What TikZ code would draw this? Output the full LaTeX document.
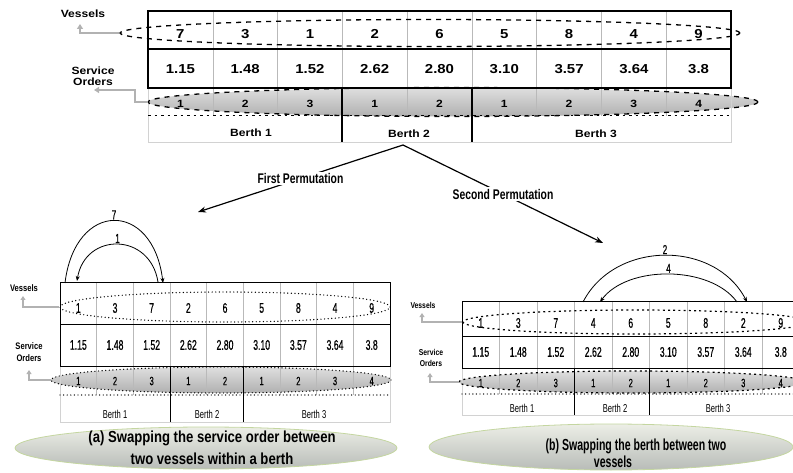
\documentclass[tikz,border=0pt]{standalone}
\usepackage{fontspec}
\usepackage{graphicx}
\setmainfont{Liberation Sans}
\newfontfamily\topf[FakeStretch=1.15]{Liberation Sans}
\newfontfamily\botf[FakeStretch=0.62,FakeBold=0.6]{Liberation Sans}
\newfontfamily\botfb[FakeStretch=0.66]{Liberation Sans}
\newfontfamily\labf[FakeStretch=0.8]{Liberation Sans}
\newfontfamily\permf[FakeStretch=0.74]{Liberation Sans}
\newfontfamily\tita[FakeStretch=0.82]{Liberation Sans}
\newfontfamily\titb[FakeStretch=0.66]{Liberation Sans}
\usetikzlibrary{shapes.geometric,arrows.meta}
\definecolor{titfillT}{RGB}{236,238,230}
\definecolor{titfillB}{RGB}{184,188,184}
\definecolor{titedge}{RGB}{196,214,160}
\begin{document}
\begin{tikzpicture}[x=1pt,y=-1pt,
  topnum/.style={font=\topf\bfseries\fontsize{13}{15}\selectfont, inner sep=0pt},
  topso/.style={font=\topf\bfseries\fontsize{10.5}{12}\selectfont, inner sep=0pt},
  toplab/.style={font=\topf\bfseries\fontsize{10.5}{11.5}\selectfont, inner sep=0pt, align=center},
  botnum/.style={font=\botf\fontsize{14}{16}\selectfont, inner sep=0pt},
  botso/.style={font=\botf\fontsize{12}{14}\selectfont, inner sep=0pt},
  botberth/.style={font=\botfb\fontsize{11.5}{13}\selectfont, inner sep=0pt},
  botlab/.style={font=\labf\bfseries\fontsize{9.5}{12.5}\selectfont, inner sep=0pt, align=center},
  botlabb/.style={font=\labf\bfseries\fontsize{8.5}{10.6}\selectfont, inner sep=0pt, align=center},
  arclab/.style={font=\botf\fontsize{13}{14}\selectfont, inner sep=1pt},
  permlab/.style={font=\permf\bfseries\fontsize{14}{15}\selectfont, fill=white, inner sep=1.5pt},
  permarrow/.style={draw=black, line width=1.2pt, -{Stealth[length=8pt,width=6pt]}},
  arcarrow/.style={draw=black, line width=0.8pt, -{Stealth[length=5pt,width=4pt]}},
  labarrow/.style={draw=gray!60, line width=1.6pt, -{Triangle[length=5pt,width=6pt]}},
  labarrowb/.style={draw=gray!60, line width=1.2pt, -{Triangle[length=4pt,width=5pt]}},
  gridl/.style={draw=gray!55, line width=0.5pt},
  lightl/.style={draw=gray!35, line width=0.6pt},
  boxl/.style={draw=black, line width=1.3pt},
  boxlb/.style={draw=black, line width=1pt},
  shell/.style={ellipse, inner sep=0pt, top color=gray!25, bottom color=gray!62},
  topdash/.style={draw=black, line width=1.3pt, dash pattern=on 5pt off 5pt},
  botdot/.style={draw=black, line width=1.4pt, dash pattern=on 0pt off 3.6pt, line cap=round},
  botdash/.style={draw=black, line width=1.2pt, dash pattern=on 2pt off 3.2pt},
  titell/.style={ellipse, inner sep=0pt, top color=titfillT, bottom color=titfillB, draw=titedge, line width=0.8pt}
]
\useasboundingbox (0,0) rectangle (793,473);
\clip (0,0) rectangle (793,473);

% ================= TOP TABLE =================
\node[shell, minimum width=610pt, minimum height=29pt] (serT) at (453,102) {};
\foreach \i in {1,...,8} {
  \draw[gridl] ({148+64.78*\i},11) -- ({148+64.78*\i},116);
}
\draw[lightl] (148,88) -- (148,142) -- (731,142) -- (731,88);
\draw[draw=black, line width=1pt, dash pattern=on 2.5pt off 4pt] (148,116) -- (731,116);
\draw[boxl] (148,11) rectangle (731,88);
\draw[boxl] (148,49) -- (731,49);
\draw[draw=black, line width=2pt] (342.3,88) -- (342.3,142);
\draw[draw=black, line width=2pt] (471.9,88) -- (471.9,142);
\draw[topdash] (serT.center) ellipse [x radius=305, y radius=14.5];
\node[ellipse, topdash, minimum width=620pt, minimum height=27pt, inner sep=0pt] (vesT) at (430,33) {};

\foreach \v [count=\i] in {7,3,1,2,6,5,8,4,9}
  \node[topnum] (tv\i) at ({148+64.78*(\i-0.5)},34) {\v};
\foreach \v [count=\i] in {1.15,1.48,1.52,2.62,2.80,3.10,3.57,3.64,3.8}
  \node[topnum] (tc\i) at ({148+64.78*(\i-0.5)},69) {\v};
\foreach \v [count=\i] in {1,2,3,1,2,1,2,3,4}
  \node[topso] (ts\i) at ({148+64.78*(\i-0.5)},104) {\v};
\node[topso] (tb1) at (251,133) {Berth 1};
\node[topso] (tb2) at (409,134) {Berth 2};
\node[topso] (tb3) at (596,134) {Berth 3};

\node[toplab] (vlT) at (83,14) {Vessels};
\coordinate (vlTtip) at (80,24);
\draw[labarrow] (vesT.west) -| (vlTtip);
\node[toplab] (slT) at (93,76) {Service\\Orders};
\coordinate (slTtip) at (94,90);
\draw[labarrow] (serT.west) -- ++(-13,0) |- (slTtip);

% ================= PERMUTATION ARROWS =================
\coordinate (fork) at (403,145);
\coordinate (tipA) at (198,212);
\coordinate (tipB) at (603,243);
\draw[permarrow] (fork) -- node[permlab] (pA) {First Permutation} (tipA);
\draw[permarrow] (fork) -- node[permlab] (pB) {Second Permutation} (tipB);

% ================= (a) =================
\node[shell, minimum width=340pt, minimum height=26pt] (serA) at (221,380) {};
\foreach \i in {1,...,8} {
  \draw[gridl] ({60+36.67*\i},283) -- ({60+36.67*\i},395);
}
\draw[lightl] (60,366) -- (60,422) -- (390,422) -- (390,366);
\draw[botdot] (60,395) -- (390,395);
\draw[boxlb] (60,283) rectangle (390,366);
\draw[boxlb] (60,324) -- (390,324);
\draw[boxlb] (170,366) -- (170,422);
\draw[boxlb] (243.3,366) -- (243.3,422);
\draw[botdot] (serA.center) ellipse [x radius=170, y radius=13];
\node[ellipse, botdot, minimum width=330pt, minimum height=30pt, inner sep=0pt] (vesA) at (225,307) {};

\foreach \v [count=\i] in {1,3,7,2,6,5,8,4,9}
  \node[botnum] (av\i) at ({60+36.67*(\i-0.5)},308) {\v};
\foreach \v [count=\i] in {1.15,1.48,1.52,2.62,2.80,3.10,3.57,3.64,3.8}
  \node[botnum] (ac\i) at ({60+36.67*(\i-0.5)},345) {\v};
\foreach \v [count=\i] in {1,2,3,1,2,1,2,3,4}
  \node[botso] (as\i) at ({60+36.67*(\i-0.5)},381) {\v};
\node[botberth] (ab1) at (115,414) {Berth 1};
\node[botberth] (ab2) at (207,414) {Berth 2};
\node[botberth] (ab3) at (314,414) {Berth 3};

\node[botlab] (vlA) at (24,288) {Vessels};
\coordinate (vlAtip) at (23,296);
\draw[labarrowb] (vesA.west) -| (vlAtip);
\node[botlab] (slA) at (29,352) {Service\\Orders};
\coordinate (slAtip) at (29,370);
\draw[labarrowb] (serA.west) -| (slAtip);

\coordinate (a7s) at (65,283);
\coordinate (a7e) at (163,283);
\coordinate (a1s) at (158,282);
\coordinate (a1e) at (77,281);
\draw[arcarrow] (a7s) .. controls (75,200) and (153,200) .. (a7e)
  node[arclab, pos=0.5, anchor=south] (l7) {7};
\draw[arcarrow] (a1s) .. controls (150,232) and (85,232) .. (a1e)
  node[arclab, pos=0.5, anchor=south] (l1) {1};

\node[titell, minimum width=382pt, minimum height=42pt] (tA) at (206,448) {};
\node[font=\tita\bfseries\fontsize{16}{21.5}\selectfont, align=center, inner sep=0pt] (ttA) at (212,448)
  {(a) Swapping the service order between\\two vessels within a berth};

% ================= (b) =================
\node[shell, minimum width=346pt, minimum height=22pt] (serB) at (632,382) {};
\foreach \i in {1,...,8} {
  \draw[gridl] ({462+37.5*\i},302) -- ({462+37.5*\i},394);
}
\draw[lightl] (462,368) -- (462,415) -- (800,415);
\draw[botdot] (462,394) -- (800,394);
\draw[boxlb] (800,302) -- (462,302) -- (462,368) -- (800,368);
\draw[boxlb] (462,336) -- (800,336);
\draw[boxlb] (574.5,368) -- (574.5,415);
\draw[boxlb] (649.5,368) -- (649.5,415);
\draw[botdash] (serB.center) ellipse [x radius=173, y radius=11];
\node[ellipse, botdash, minimum width=346pt, minimum height=24pt, inner sep=0pt] (vesB) at (636,322) {};

\foreach \v [count=\i] in {1,3,7,4,6,5,8,2,9}
  \node[botnum] (bv\i) at ({462+37.5*(\i-0.5)},323) {\v};
\foreach \v [count=\i] in {1.15,1.48,1.52,2.62,2.80,3.10,3.57,3.64,3.8}
  \node[botnum] (bc\i) at ({462+37.5*(\i-0.5)},352) {\v};
\foreach \v [count=\i] in {1,2,3,1,2,1,2,3,4}
  \node[botso] (bs\i) at ({462+37.5*(\i-0.5)},383) {\v};
\node[botberth] (bb1) at (522,408) {Berth 1};
\node[botberth] (bb2) at (615,408) {Berth 2};
\node[botberth] (bb3) at (718,408) {Berth 3};

\node[botlabb] (vlB) at (423,305) {Vessels};
\coordinate (vlBtip) at (422,313);
\draw[labarrowb] (vesB.west) -| (vlBtip);
\node[botlabb] (slB) at (431,358) {Service\\Orders};
\coordinate (slBtip) at (430,373);
\draw[labarrowb] (serB.west) -| (slBtip);

\coordinate (b2s) at (583,302);
\coordinate (b2e) at (747,302);
\coordinate (b4s) at (737,302);
\coordinate (b4e) at (600,302);
\draw[arcarrow] (b2s) .. controls (615,240) and (715,240) .. (b2e)
  node[arclab, pos=0.5, anchor=south] (l2) {2};
\draw[arcarrow] (b4s) .. controls (710,265) and (627,265) .. (b4e)
  node[arclab, pos=0.5, anchor=south] (l4) {4};

\node[titell, minimum width=364pt, minimum height=46pt] (tB) at (611,447) {};
\node[font=\titb\bfseries\fontsize{16}{17}\selectfont, align=center, inner sep=0pt] (ttB) at (636,453)
  {(b) Swapping the berth between two\\vessels\hspace*{46pt}};
\end{tikzpicture}
\end{document}
